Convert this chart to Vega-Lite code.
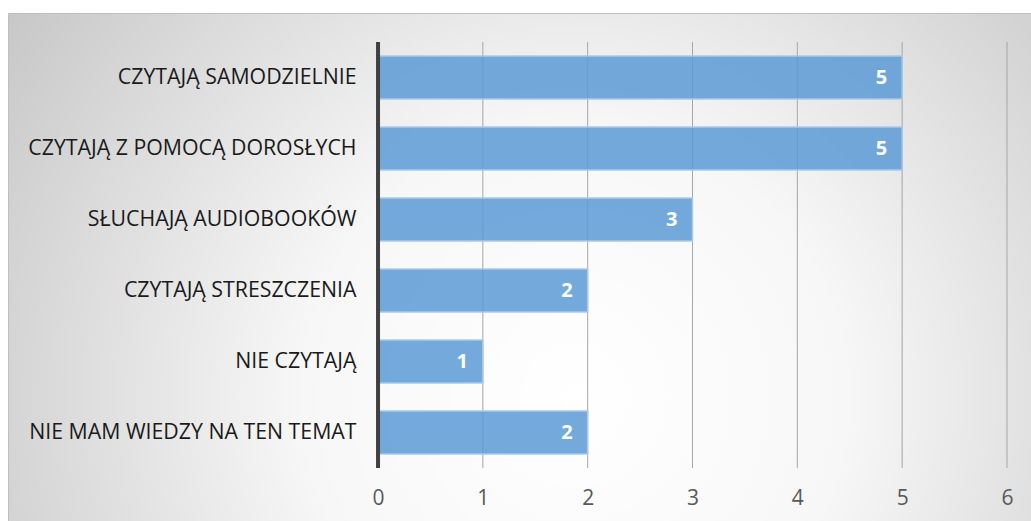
{
  "$schema": "https://vega.github.io/schema/vega-lite/v6.json",
  "width": 1030,
  "height": 520,
  "autosize": {"type": "none"},
  "padding": {"left": 8, "top": 13, "right": 0, "bottom": 0},
  "background": "white",
  "view": {
    "fill": {
      "gradient": "radial",
      "x1": 0.55, "y1": 0.62, "r1": 0,
      "x2": 0.55, "y2": 0.62, "r2": 0.75,
      "stops": [
        {"offset": 0, "color": "#ffffff"},
        {"offset": 0.35, "color": "#f7f7f7"},
        {"offset": 1, "color": "#bdbdbd"}
      ]
    },
    "stroke": "#c0c0c0",
    "strokeWidth": 1
  },
  "datasets": {
    "answers": [
      {"kategoria": "CZYTAJĄ SAMODZIELNIE", "liczba": 5},
      {"kategoria": "CZYTAJĄ Z POMOCĄ DOROSŁYCH", "liczba": 5},
      {"kategoria": "SŁUCHAJĄ AUDIOBOOKÓW", "liczba": 3},
      {"kategoria": "CZYTAJĄ STRESZCZENIA", "liczba": 2},
      {"kategoria": "NIE CZYTAJĄ", "liczba": 1},
      {"kategoria": "NIE MAM WIEDZY NA TEN TEMAT", "liczba": 2}
    ],
    "ticks": [{"v": 1}, {"v": 2}, {"v": 3}, {"v": 4}, {"v": 5}, {"v": 6}]
  },
  "layer": [
    {
      "data": {"name": "ticks"},
      "mark": {"type": "rule", "color": "#a6a6a6", "strokeWidth": 1},
      "encoding": {
        "x": {"field": "v", "type": "quantitative", "title": null},
        "y": {"datum": "CZYTAJĄ SAMODZIELNIE", "type": "nominal", "bandPosition": 0, "title": null},
        "y2": {"datum": "NIE MAM WIEDZY NA TEN TEMAT", "bandPosition": 1}
      }
    },
    {
      "data": {"name": "answers"},
      "mark": {"type": "bar", "height": {"band": 0.606}, "fill": "#5b9bd5", "fillOpacity": 0.85, "stroke": "#a9c9ea", "strokeWidth": 1.5},
      "encoding": {
        "y": {
          "field": "kategoria", "type": "nominal", "sort": null, "title": null,
          "scale": {
            "domain": ["CZYTAJĄ SAMODZIELNIE", "CZYTAJĄ Z POMOCĄ DOROSŁYCH", "SŁUCHAJĄ AUDIOBOOKÓW", "CZYTAJĄ STRESZCZENIA", "NIE CZYTAJĄ", "NIE MAM WIEDZY NA TEN TEMAT"],
            "paddingInner": 0, "paddingOuter": 0.662, "align": 0.309
          },
          "axis": {"orient": "left", "offset": -370, "domain": false, "ticks": false, "grid": false, "labelPadding": 22, "labelFontSize": 21.3, "labelFont": "Open Sans", "labelColor": "#1a1a1a", "labelLimit": 400}
        },
        "x": {
          "field": "liczba", "type": "quantitative", "title": null,
          "scale": {"domain": [-3.53, 6.296], "nice": false, "zero": false},
          "axis": {"orient": "bottom", "offset": -46, "values": [0, 1, 2, 3, 4, 5, 6], "format": "d", "domain": false, "ticks": false, "grid": false, "labelPadding": 0, "labelFontSize": 21, "labelFont": "Open Sans", "labelColor": "#595959"}
        },
        "x2": {"datum": 0}
      }
    },
    {
      "data": {"name": "answers"},
      "mark": {"type": "text", "align": "right", "baseline": "middle", "dx": -15, "color": "white", "font": "Open Sans", "fontWeight": "bold", "fontSize": 20},
      "encoding": {
        "y": {"field": "kategoria", "type": "nominal", "sort": null, "title": null},
        "x": {"field": "liczba", "type": "quantitative", "title": null},
        "text": {"field": "liczba", "type": "quantitative"}
      }
    },
    {
      "data": {"values": [{}]},
      "mark": {"type": "rule", "color": "#404040", "strokeWidth": 4},
      "encoding": {
        "x": {"datum": 0, "type": "quantitative", "title": null},
        "y": {"datum": "CZYTAJĄ SAMODZIELNIE", "type": "nominal", "bandPosition": 0, "title": null},
        "y2": {"datum": "NIE MAM WIEDZY NA TEN TEMAT", "bandPosition": 1}
      }
    }
  ]
}
